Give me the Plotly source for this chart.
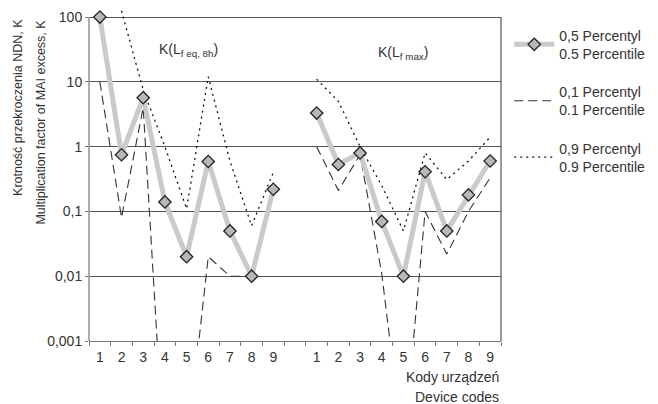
import math
import plotly.graph_objects as go

# ---- data ----
device_codes = ["1", "2", "3", "4", "5", "6", "7", "8", "9"]

# K(L_f eq,8h)
p50_eq = [100, 0.75, 5.7, 0.14, 0.02, 0.59, 0.05, 0.01, 0.22]
p10_eq = [10, 0.08, 4.0, 1e-5, 2e-5, 0.02, 0.01, 0.01, 0.2]
p90_eq = [None, 125, 7.5, 1.0, 0.11, 12, 0.6, 0.06, 0.4]

# K(L_f max)
p50_max = [3.3, 0.53, 0.8, 0.07, 0.01, 0.41, 0.05, 0.18, 0.6]
p10_max = [1.0, 0.21, 0.75, 0.011, 2e-5, 0.1, 0.022, 0.1, 0.33]
p90_max = [11, 5.0, 1.0, 0.25, 0.05, 0.8, 0.31, 0.6, 1.4]

y_tickvals = [0.001, 0.01, 0.1, 1, 10, 100]
y_ticktext = ["0,001", "0,01", "0,1", "1", "10", "100"]

series_names = {
    "p50": "0,5 Percentyl<br>0.5 Percentile",
    "p10": "0,1 Percentyl<br>0.1 Percentile",
    "p90": "0,9 Percentyl<br>0.9 Percentile",
}

# ---- layout helpers ----
n = len(device_codes)
pos1 = list(range(n))
pos2 = [i + n + 1 for i in range(n)]
xs = pos1 + [n] + pos2


def joined(a, b):
    return list(a) + [None] + list(b)


FONT = "Liberation Sans, Arial, sans-serif"
TXT = "#333333"
ymin, ymax = -3, 2.14
top_frac = (2 - ymin) / (ymax - ymin)

fig = go.Figure()

fig.add_trace(go.Scatter(
    x=xs, y=joined(p10_eq, p10_max), mode="lines",
    name=series_names["p10"], legendrank=2, legendgroup="b",
    line=dict(color="#333333", width=1.1, dash="9px,5px"),
))
fig.add_trace(go.Scatter(
    x=xs, y=joined(p90_eq, p90_max), mode="lines",
    name=series_names["p90"], legendrank=3, legendgroup="c",
    line=dict(color="#111111", width=1.3, dash="2px,4px"),
))
fig.add_trace(go.Scatter(
    x=xs, y=joined(p50_eq, p50_max), mode="lines+markers",
    name=series_names["p50"], legendrank=1, legendgroup="a",
    line=dict(color="#cacaca", width=5),
    marker=dict(symbol="diamond", size=9.5, color="#b8b8b8",
                line=dict(color="#222222", width=1.3)),
))

fig.update_layout(
    width=658, height=404,
    margin=dict(l=89, r=145, t=8, b=63),
    paper_bgcolor="white", plot_bgcolor="white",
    font=dict(family=FONT, size=14, color=TXT),
    showlegend=True,
    legend=dict(
        x=1.02, y=0.965, xanchor="left", yanchor="top",
        font=dict(size=14, color=TXT), tracegroupgap=17,
        bgcolor="rgba(0,0,0,0)", itemwidth=40,
    ),
    xaxis=dict(
        range=[-0.5, 2 * n + 0.5],
        tickmode="array", tickvals=xs,
        ticktext=device_codes + [" "] + device_codes,
        ticks="", showgrid=False, zeroline=False,
        showline=True, linecolor="#777777", linewidth=1.2,
        tickfont=dict(size=14, color=TXT),
        minor=dict(tickmode="linear", tick0=-0.5, dtick=1, ticks="outside",
                   ticklen=4, tickcolor="#777777", showgrid=False),
        ticklabelstandoff=3,
    ),
    yaxis=dict(
        type="log", range=[ymin, ymax],
        tickmode="array", tickvals=y_tickvals, ticktext=y_ticktext,
        ticks="outside", ticklen=3, tickcolor="#777777",
        showgrid=True, gridcolor="#555555", gridwidth=1.2,
        showline=False, zeroline=False,
        tickfont=dict(size=14, color=TXT),
    ),
    shapes=[
        dict(type="line", xref="paper", yref="paper", x0=0, x1=0,
             y0=0, y1=top_frac, line=dict(color="#777777", width=1.2)),
        dict(type="line", xref="paper", yref="paper", x0=1, x1=1,
             y0=0, y1=top_frac, line=dict(color="#555555", width=1.2)),
    ],
    annotations=[
        dict(text="K(L<sub>f eq, 8h</sub>)", xref="paper", yref="paper",
             x=0.242, y=0.873, xanchor="center", yanchor="middle",
             showarrow=False, font=dict(size=14, color=TXT)),
        dict(text="K(L<sub>f max</sub>)", xref="paper", yref="paper",
             x=0.762, y=0.866, xanchor="center", yanchor="middle",
             showarrow=False, font=dict(size=14, color=TXT)),
        dict(text="Krotność przekroczenia NDN, K", xref="paper", yref="paper",
             x=-0.172, y=0.972, xanchor="center", yanchor="top",
             textangle=-90, showarrow=False, font=dict(size=12.5, color=TXT)),
        dict(text="Multiplication factor of MAI excess, K", xref="paper",
             yref="paper", x=-0.117, y=0.972, xanchor="center", yanchor="top",
             textangle=-90, showarrow=False, font=dict(size=12.5, color=TXT)),
        dict(text="Kody urządzeń", xref="paper", yref="paper",
             x=1.0, y=-0.108, xanchor="right", yanchor="middle",
             showarrow=False, font=dict(size=14, color=TXT)),
        dict(text="Device codes", xref="paper", yref="paper",
             x=1.0, y=-0.168, xanchor="right", yanchor="middle",
             showarrow=False, font=dict(size=14, color=TXT)),
    ],
)

fig.write_html("out.html")
